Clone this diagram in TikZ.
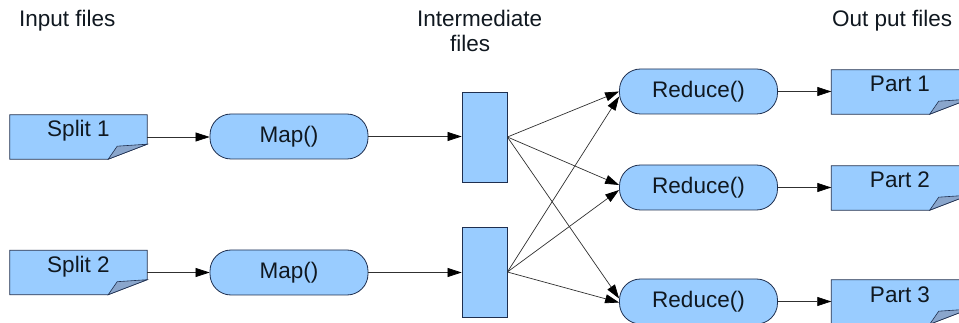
\documentclass[tikz,border=0pt]{standalone}
\usepackage{fontspec}
\setmainfont{Liberation Sans}
\usetikzlibrary{arrows.meta}
\pgfdeclarelayer{background}
\pgfsetlayers{background,main}

\definecolor{boxfill}{HTML}{99CCFF}
\definecolor{boxline}{HTML}{1F2F4F}
\definecolor{foldfill}{HTML}{8AA6CC}
\definecolor{wire}{HTML}{303030}
\definecolor{ink}{HTML}{101820}

% sheet of paper with a dog-eared bottom right corner, drawn around a named node
\newcommand\foldedpage[1]{%
  \draw[boxline, fill=boxfill, line width=0.8pt]
    (#1.north west) -- (#1.north east) -- ([yshift=15pt]#1.south east)
    -- ([xshift=-39pt]#1.south east) -- (#1.south west) -- cycle;
  \draw[boxline, fill=foldfill, line width=0.6pt]
    ([xshift=-39pt]#1.south east) -- ([xshift=-30pt,yshift=13pt]#1.south east)
    -- ([yshift=15pt]#1.south east) -- cycle;
}

\begin{document}
\begin{tikzpicture}[x=1pt,y=-1pt,
  font=\fontsize{22.5pt}{26pt}\selectfont,
  docbox/.style={minimum width=137pt, inner xsep=0pt, inner ysep=6pt,
    text height=16pt, text depth=16pt, text=ink},
  procbox/.style={draw=boxline, fill=boxfill, line width=0.8pt,
    rounded corners=21pt, minimum width=158pt, minimum height=45pt,
    inner sep=0pt, text=ink},
  filebox/.style={draw=boxline, fill=boxfill, line width=0.8pt,
    minimum width=45pt, minimum height=90pt, inner sep=0pt},
  flow/.style={draw=wire, line width=0.7pt,
    -{Triangle[length=14pt,width=9pt,color=black]}},
  heading/.style={anchor=base west, inner sep=0pt, text=ink}]

\useasboundingbox (0,0) rectangle (959,323);
\clip (0,0) rectangle (959,323);

% column headings
\node[heading] (hin)   at (19,27)  {Input files};
\node[heading] (hmid1) at (417,27) {Intermediate};
\node[heading] (hmid2) at (450,52) {files};
\node[heading] (hout)  at (832,27) {Out put files};

% input splits
\node[docbox] (s1) at (78.5,137)   {Split 1};
\node[docbox] (s2) at (78.5,272.5) {Split 2};

% map tasks
\node[procbox] (m1) at (289,136.5) {Map()};
\node[procbox] (m2) at (289,272.5) {Map()};

% intermediate files
\node[filebox] (i1) at (484.5,137) {};
\node[filebox] (i2) at (484.5,272) {};

% reduce tasks
\node[procbox] (r1) at (698.5,91.5)  {Reduce()};
\node[procbox] (r2) at (698.5,187.5) {Reduce()};
\node[procbox] (r3) at (698.5,301.5) {Reduce()};

% output parts
\node[docbox] (p1) at (900,92)  {Part 1};
\node[docbox] (p2) at (900,188) {Part 2};
\node[docbox] (p3) at (900,302) {Part 3};

\begin{pgfonlayer}{background}
  \foldedpage{s1}
  \foldedpage{s2}
  \foldedpage{p1}
  \foldedpage{p2}
  \foldedpage{p3}
\end{pgfonlayer}

% splits to maps
\draw[flow] (s1.east) -- (s1.east -| m1.west);
\draw[flow] (s2.east) -- (s2.east -| m2.west);

% maps to intermediate files
\draw[flow] (m1.east) -- (m1.east -| i1.west);
\draw[flow] (m2.east) -- (m2.east -| i2.west);

% shuffle: every intermediate file feeds every reducer
\draw[flow] (i1.east) -- ([yshift=0pt]r1.west);
\draw[flow] (i1.east) -- ([yshift=2.5pt]r2.west);
\draw[flow] (i1.east) -- ([yshift=3pt]r3.west);
\draw[flow] (i2.east) -- ([yshift=-5pt]r1.west);
\draw[flow] (i2.east) -- ([yshift=-2.5pt]r2.west);
\draw[flow] (i2.east) -- ([yshift=-1pt]r3.west);

% reducers to output parts
\draw[flow] (r1.east) -- (r1.east -| p1.west);
\draw[flow] (r2.east) -- (r2.east -| p2.west);
\draw[flow] (r3.east) -- (r3.east -| p3.west);
\end{tikzpicture}
\end{document}
